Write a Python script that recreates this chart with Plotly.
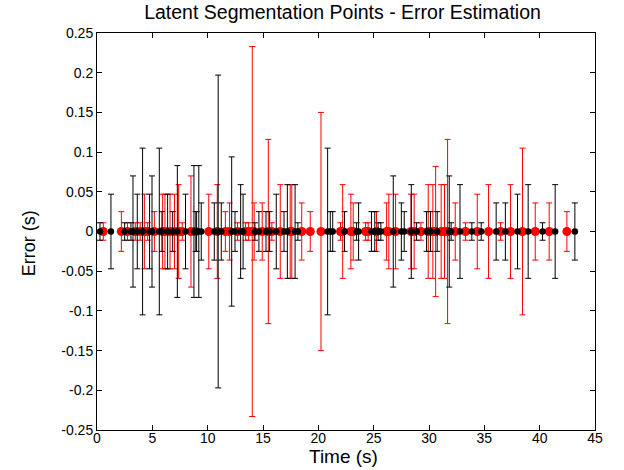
import plotly.graph_objects as go

# Black series: segmentation time (s) and error half-width (s)
t_black = [0.27, 1.26, 2.5, 3.07, 3.25, 3.64, 4.12, 4.75, 4.97, 5.63, 5.87, 6.38, 6.84,
           7.26, 8.0, 8.76, 9.0, 9.2, 9.42, 10.6, 10.95, 11.23, 12.17, 12.47, 12.98, 13.2,
           14.27, 14.63, 15.27, 15.6, 16.2, 16.9, 17.2, 17.9, 18.15, 20.84, 21.08, 21.3,
           22.37, 23.46, 23.64, 24.8, 25.1, 25.4, 25.65, 26.77, 27.5, 27.76, 28.4, 28.88,
           29.78, 30.14, 30.74, 31.83, 32.0, 32.8, 33.87, 34.72, 36.07, 36.9, 38.0, 38.96,
           40.26, 41.4, 43.18]
err_black = [0.011, 0.047, 0.011, 0.011, 0.07, 0.047, 0.105, 0.047, 0.07, 0.105, 0.025, 0.047, 0.025,
             0.083, 0.047, 0.083, 0.025, 0.083, 0.036, 0.036, 0.197, 0.036, 0.094, 0.025, 0.059, 0.047,
             0.011, 0.025, 0.025, 0.025, 0.047, 0.025, 0.059, 0.059, 0.011, 0.105, 0.025, 0.025,
             0.025, 0.011, 0.036, 0.025, 0.025, 0.011, 0.011, 0.07, 0.036, 0.025, 0.059, 0.011,
             0.025, 0.025, 0.025, 0.07, 0.011, 0.059, 0.011, 0.011, 0.036, 0.036, 0.047, 0.059,
             0.011, 0.059, 0.036]
y_black = [0] * len(t_black)

# Red series
t_red = [0.57, 2.2, 2.75, 3.46, 3.9, 4.28, 4.58, 5.18, 5.93, 6.14, 6.6, 7.0, 7.38, 7.7,
         8.49, 8.9, 10.1, 10.87, 11.6, 11.98, 12.7, 13.43, 13.7, 14.03, 14.2, 14.93, 15.48,
         15.8, 16.56, 17.46, 17.6, 18.5, 19.27, 20.24, 22.0, 22.2, 22.94, 23.15, 24.27, 24.5,
         25.26, 26.17, 26.37, 26.98, 28.37, 28.66, 29.27, 29.93, 30.35, 30.6, 31.1, 31.4,
         31.68, 32.37, 33.3, 34.36, 35.38, 36.47, 37.37, 38.45, 39.6, 40.86, 42.46]
err_red = [0.011, 0.025, 0.011, 0.011, 0.011, 0.047, 0.011, 0.025, 0.047, 0.047, 0.047, 0.047, 0.059, 0.011,
           0.07, 0.025, 0.047, 0.059, 0.025, 0.036, 0.011, 0.011, 0.011, 0.233, 0.036, 0.036, 0.116,
           0.011, 0.059, 0.059, 0.059, 0.036, 0.025, 0.15, 0.011, 0.059, 0.047, 0.036, 0.011, 0.011,
           0.025, 0.036, 0.047, 0.047, 0.047, 0.047, 0.011, 0.059, 0.059, 0.082, 0.059, 0.059,
           0.116, 0.036, 0.011, 0.047, 0.059, 0.011, 0.059, 0.105, 0.036, 0.036, 0.025]
y_red = [0] * len(t_red)

x_ticks = [0, 5, 10, 15, 20, 25, 30, 35, 40, 45]
y_ticks = [-0.25, -0.2, -0.15, -0.1, -0.05, 0, 0.05, 0.1, 0.15, 0.2, 0.25]
y_tick_labels = ["-0.25", "-0.2", "-0.15", "-0.1", "-0.05", "0", "0.05", "0.1", "0.15", "0.2", "0.25"]

FONT = "Liberation Sans, Arial, sans-serif"

fig = go.Figure()
fig.add_trace(go.Scatter(
    x=t_red, y=y_red, mode="markers",
    marker=dict(color="#ff0000", size=9, line=dict(width=0)),
    error_y=dict(type="data", array=err_red, visible=True, color="#ff0000", thickness=1, width=3),
    showlegend=False,
))
fig.add_trace(go.Scatter(
    x=t_black, y=y_black, mode="markers",
    marker=dict(color="#000000", size=6.5, line=dict(width=0)),
    error_y=dict(type="data", array=err_black, visible=True, color="#000000", thickness=1, width=3),
    showlegend=False,
))

axis_common = dict(
    showgrid=False, zeroline=False, showline=True, linecolor="black", linewidth=1,
    mirror="ticks", ticks="inside", ticklen=5, tickcolor="black", automargin=False,
    tickfont=dict(family=FONT, size=14, color="black"),
)
fig.update_xaxes(range=[0, 45], tickvals=x_ticks, ticktext=[str(v) for v in x_ticks],
                 ticklabelstandoff=-5, **axis_common)
fig.update_yaxes(range=[-0.25, 0.25], tickvals=y_ticks, ticktext=y_tick_labels, ticklabelstandoff=0,
                 **axis_common)

fig.update_layout(
    width=624, height=470,
    margin=dict(l=97, r=29, t=33, b=40, autoexpand=False),
    paper_bgcolor="white", plot_bgcolor="white",
    title=dict(text="Latent Segmentation Points - Error Estimation", x=(342.5 / 624), xanchor="center",
               xref="container", y=1 - 12 / 470, yanchor="middle",
               font=dict(family=FONT, size=19.5, color="black"), automargin=False),
    annotations=[
        dict(text="Time (s)", xref="paper", yref="paper", x=0.494, y=-0.066,
             xanchor="center", yanchor="middle", showarrow=False,
             font=dict(family=FONT, size=19, color="black")),
        dict(text="Error (s)", xref="paper", yref="paper", x=-0.135, y=0.47,
             xanchor="center", yanchor="middle", textangle=-90, showarrow=False,
             font=dict(family=FONT, size=18, color="black")),
    ],
)

fig.write_html("out.html", config={"displayModeBar": False},
               post_script="document.body.style.margin='0px';document.body.style.padding='0px';")
